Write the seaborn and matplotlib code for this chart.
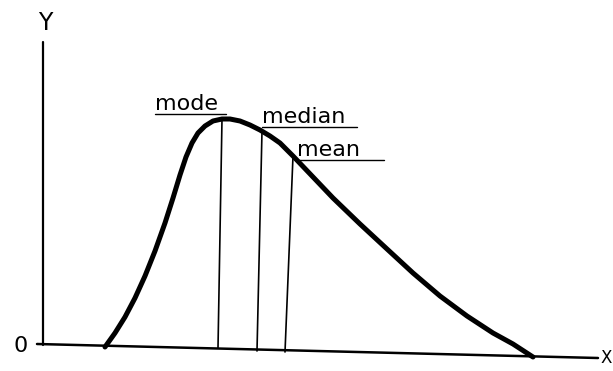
import matplotlib
matplotlib.use("Agg")
import matplotlib.pyplot as plt
import seaborn as sns
import pandas as pd

sns.set_theme(style="white")
plt.rcParams['font.family'] = ['DejaVu Sans']

# Skewed distribution curve (x, height in picture units)
curve_x = [105, 115, 125, 135, 145, 155, 165, 173, 180, 186, 192, 198, 205, 213, 222, 230,
           240, 250, 260, 270, 280, 293, 313, 333, 360, 387, 413, 440, 467, 493, 513, 533]
curve_y = [347, 333, 317, 298, 276, 251, 223, 198, 175, 157, 143, 133, 126, 121, 119, 119,
           121, 125, 130, 136, 143, 156, 177, 198, 224, 249, 273, 296, 316, 333, 344, 357]

# Vertical markers: label, top point and bottom point
marker_labels = ["mode", "median", "mean"]
marker_top_x = [222, 262, 293]
marker_top_y = [119, 131, 156]
marker_bot_x = [218, 257, 285]
marker_bot_y = [348, 351, 352]

# Label positions (left, baseline) and underline extents
label_x = [155, 262, 297]
label_y = [110, 123, 156]
underline_end = [226, 357, 384]

fig = plt.figure(figsize=(6.13, 3.71), dpi=100)
ax = fig.add_axes([0, 0, 1, 1])
ax.set_xlim(0, 613)
ax.set_ylim(371, 0)
ax.axis("off")

df = pd.DataFrame({"x": curve_x, "y": curve_y})
sns.lineplot(data=df, x="x", y="y", sort=False, ax=ax, color="black", lw=3.6,
             solid_capstyle="round", solid_joinstyle="round")

# axes
ax.plot([43, 43], [42, 345], color="black", lw=1.6)
ax.plot([37, 598], [344, 358], color="black", lw=1.8)
ax.text(45, 23, "Y", fontsize=17, ha="center", va="center", color="black")
ax.text(21, 346, "0", fontsize=16, ha="center", va="center", color="black")
ax.text(612, 358, "X", fontsize=12, ha="right", va="center", color="black")

for lab, tx, ty, bx, by, lx, ly, ue in zip(marker_labels, marker_top_x, marker_top_y,
                                           marker_bot_x, marker_bot_y, label_x, label_y,
                                           underline_end):
    ax.plot([tx, bx], [ty, by], color="black", lw=1.2)
    ax.text(lx, ly, lab, fontsize=16, ha="left", va="baseline", color="black")
    ax.plot([lx, ue], [ly + 4, ly + 4], color="black", lw=1.0)

fig.savefig("out.png", dpi=100)
